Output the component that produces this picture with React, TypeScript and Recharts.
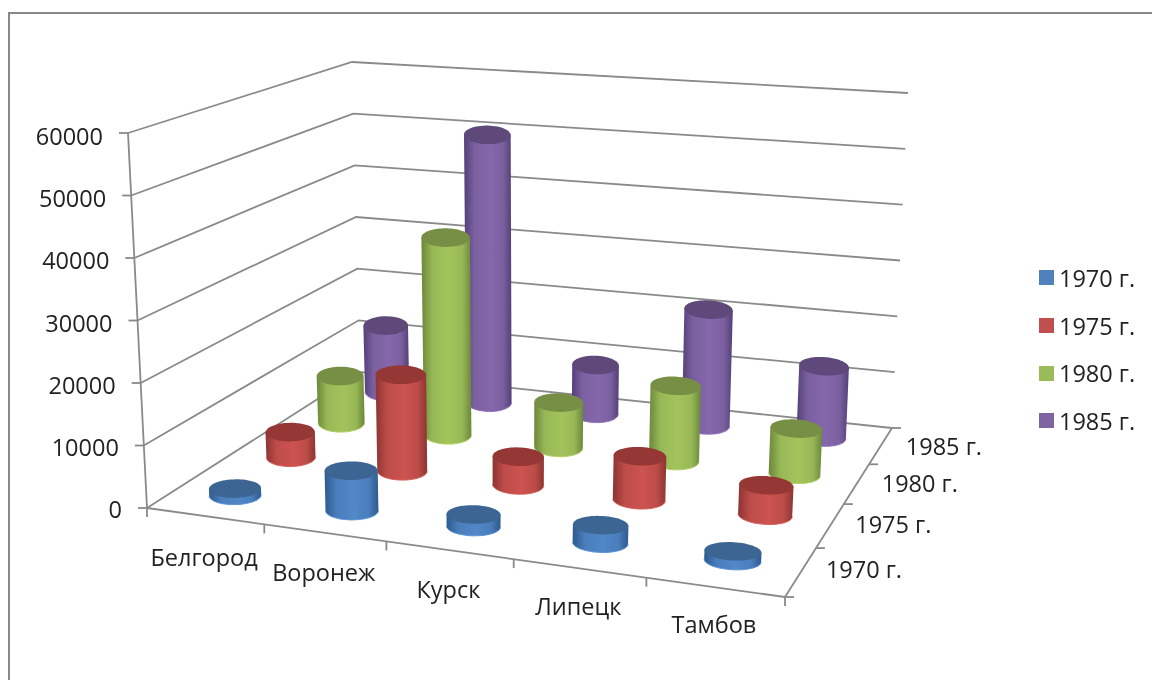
import { Bar, CartesianGrid, ComposedChart, Legend, XAxis, YAxis } from 'recharts'

const cities = ['Белгород', 'Воронеж', 'Курск', 'Липецк', 'Тамбов']
const years = ['1970 г.', '1975 г.', '1980 г.', '1985 г.']
const values1970 = [1100, 6400, 1900, 2800, 1400]
const values1975 = [4300, 16200, 4700, 7100, 4800]
const values1980 = [8400, 34900, 7800, 12800, 7700]
const values1985 = [12400, 49500, 8800, 20700, 12500]
const yTicks = [0, 10000, 20000, 30000, 40000, 50000, 60000]
const depthTicks = [0.5, 1.5, 2.5, 3.5]

const tableData = cities.map((city, i) => ({
  city,
  s0: values1970[i],
  s1: values1975[i],
  s2: values1980[i],
  s3: values1985[i],
}))

const palette = [
  { id: 'blue', legend: '#4f81bd', edge: '#2d5a8f', mid: '#4a7dbb', light: '#5088c8', top: '#3c6593', rim: '#5a94d6' },
  { id: 'red', legend: '#c0504d', edge: '#8c3432', mid: '#bd4c49', light: '#cc5350', top: '#953735', rim: '#d75e5b' },
  { id: 'green', legend: '#9bbb59', edge: '#6b873a', mid: '#97b856', light: '#a3c45c', top: '#768f45', rim: '#b1d066' },
  { id: 'purple', legend: '#8064a2', edge: '#534078', mid: '#7b60a0', light: '#8567ab', top: '#5f497a', rim: '#9272b8' },
]

const PLOT = { left: 100, top: 50, width: 600, height: 500 }
const WIDTH = 1152
const HEIGHT = 680
const FONT = '"Open Sans", sans-serif'
const FONT_SIZE = 23.5
const LINE = '#8a8a8a'
const LINE_WIDTH = 1.8
const TEXT = '#222222'

// corners of the 3D box on the page, [x, y]
const box = {
  frontLeft: [[147, 508], [128, 133]],
  backLeft: [[360, 372], [352, 62]],
  frontRight: [[785, 597], [805, 190]],
  backRight: [[892, 428], [908, 93]],
}

const lerp = (a: number, b: number, t: number) => a + (b - a) * t
const warpU = (u: number) => u / (1.11 - 0.11 * u)
const warpV = (v: number) => (1.22 * v) / (1 + 0.22 * v)

function project(u: number, v: number, w: number) {
  const fu = warpU(u)
  const fv = warpV(v)
  const at = (axis: number) => {
    const bottom = lerp(
      lerp(box.frontLeft[0][axis], box.frontRight[0][axis], fu),
      lerp(box.backLeft[0][axis], box.backRight[0][axis], fu),
      fv,
    )
    const top = lerp(
      lerp(box.frontLeft[1][axis], box.frontRight[1][axis], fu),
      lerp(box.backLeft[1][axis], box.backRight[1][axis], fu),
      fv,
    )
    return lerp(bottom, top, w)
  }
  return { x: at(0), y: at(1) }
}

const toPath = (pts: { x: number; y: number }[], close = false) =>
  pts.map((p, i) => `${i ? 'L' : 'M'}${p.x.toFixed(1)},${p.y.toFixed(1)}`).join('') + (close ? 'Z' : '')

const RU = 0.041
const RV = 0.048
const CAP_RY = 9.3

// circle around a column's centre as offsets from that centre, same height in every row
function ringOffsets(u: number, v: number) {
  const centre = project(u, v, 0)
  const pts = []
  for (let i = 0; i < 60; i++) {
    const a = (i / 60) * Math.PI * 2
    const p = project(u + RU * Math.cos(a), v + RV * Math.sin(a), 0)
    pts.push({ x: p.x - centre.x, y: p.y - centre.y })
  }
  const ys = pts.map((p) => p.y)
  const scale = (2 * CAP_RY) / (Math.max(...ys) - Math.min(...ys))
  return pts.map((p) => ({ x: p.x, y: p.y * scale }))
}

function extremes(pts: { x: number; y: number }[]) {
  let l = 0
  let r = 0
  pts.forEach((p, i) => {
    if (p.x < pts[l].x) l = i
    if (p.x > pts[r].x) r = i
  })
  return { l, r }
}

function makeCylinder(seriesIndex: number) {
  const color = palette[seriesIndex]
  const v = (seriesIndex + 0.5) / years.length
  return (props: any) => {
    const u = (props.x + props.width / 2 - PLOT.left) / PLOT.width
    const w = (PLOT.top + PLOT.height - props.y) / PLOT.height
    const offsets = ringOffsets(u, v)
    const foot = project(u, v, 0)
    const head = project(u, v, w)
    // columns sit a little higher towards the right of the floor
    const lift = 2.5 * u
    const base = offsets.map((o) => ({ x: foot.x + o.x, y: foot.y - lift + o.y }))
    const top = offsets.map((o) => ({ x: head.x + o.x * (1 + 0.04 * w), y: head.y - lift + o.y }))
    const b = extremes(base)
    const t = extremes(top)
    // front half of the base ring, left to right
    const lower = []
    for (let i = b.l; ; i = (i + 1) % 60) {
      lower.push(base[i])
      if (i === b.r) break
    }
    const body = [...lower, top[t.r], top[t.l]]
    return (
      <g>
        <path d={toPath(body, true)} fill={`url(#body-${color.id})`} />
        <path d={toPath(lower)} fill="none" stroke={color.rim} strokeWidth={1} />
        <path d={toPath(top, true)} fill={color.top} />
      </g>
    )
  }
}

function gridLine(props: any) {
  const w = (PLOT.top + PLOT.height - props.y1) / PLOT.height
  const pts = [project(0, 0, w), project(0, 1, w), project(1, 1, w)]
  return <path key={props.key ?? props.index} d={toPath(pts)} fill="none" stroke={LINE} strokeWidth={LINE_WIDTH} />
}

function YTick(props: any) {
  const w = (PLOT.top + PLOT.height - props.y) / PLOT.height
  const p = project(0, 0, w)
  return (
    <g>
      <line x1={p.x - 9} x2={p.x} y1={p.y} y2={p.y} stroke={LINE} strokeWidth={LINE_WIDTH} />
      <text x={p.x - 25} y={p.y + 10 + 2 * w} textAnchor="end" fontFamily={FONT} fontSize={FONT_SIZE} fill={TEXT}>
        {props.payload.value}
      </text>
    </g>
  )
}

function CityTick(props: any) {
  const u = (props.x - PLOT.left) / PLOT.width
  const p = project(u, 0, 0)
  return (
    <text
      x={p.x - 1}
      y={p.y + lerp(50, 45, u)}
      textAnchor="middle"
      fontFamily={FONT}
      fontSize={FONT_SIZE}
      fill={TEXT}
    >
      {props.payload.value}
    </text>
  )
}

function DepthTick(props: any) {
  const v = (props.x - PLOT.left) / PLOT.width
  const p = project(1, v, 0)
  return (
    <text x={p.x + 25} y={p.y + lerp(6, 10, v)} textAnchor="start" fontFamily={FONT} fontSize={FONT_SIZE} fill={TEXT}>
      {years[Math.floor(props.payload.value)]}
    </text>
  )
}

// axis lines of the box and their small tick marks
function BoxFrame() {
  const lines = [
    [project(0, 0, 0), project(0, 0, 1)],
    [project(0, 0, 0), project(1, 0, 0)],
    [project(1, 0, 0), project(1, 1, 0)],
  ]
  const marks = []
  for (let i = 0; i <= cities.length; i++) {
    const p = project(i / cities.length, 0, 0)
    marks.push([p, { x: p.x, y: p.y + 9 }])
  }
  for (let j = 0; j <= years.length; j++) {
    const p = project(1, j / years.length, 0)
    marks.push([p, { x: p.x + 9, y: p.y }])
  }
  return (
    <g>
      {[...lines, ...marks].map((pts, i) => (
        <path key={i} d={toPath(pts)} fill="none" stroke={LINE} strokeWidth={LINE_WIDTH} />
      ))}
    </g>
  )
}

function LegendBox({ payload }: any) {
  return (
    <div>
      {(payload ?? []).map((entry: any) => (
        <div
          key={entry.value}
          style={{ display: 'flex', alignItems: 'center', height: 47.7, fontFamily: FONT, fontSize: FONT_SIZE, color: TEXT }}
        >
          <span style={{ width: 15, height: 15, marginRight: 5, background: entry.color }} />
          {entry.value}
        </div>
      ))}
    </div>
  )
}

export default function App() {
  return (
    <div style={{ position: 'fixed', left: 0, top: 0, width: WIDTH, height: HEIGHT, background: '#fff', filter: 'blur(0.4px)' }}>
      <ComposedChart
        width={WIDTH}
        height={HEIGHT}
        data={tableData}
        margin={{
          left: PLOT.left - 1,
          top: PLOT.top,
          right: WIDTH - PLOT.left - PLOT.width,
          bottom: HEIGHT - PLOT.top - PLOT.height - 2,
        }}
      >
        <defs>
          {palette.map((c) => (
            <linearGradient key={c.id} id={`body-${c.id}`} x1="0" x2="1" y1="0" y2="0">
              <stop offset="0%" stopColor={c.edge} />
              <stop offset="22%" stopColor={c.mid} />
              <stop offset="55%" stopColor={c.light} />
              <stop offset="82%" stopColor={c.mid} />
              <stop offset="100%" stopColor={c.edge} />
            </linearGradient>
          ))}
        </defs>
        <rect x={9} y={13} width={1170} height={700} fill="none" stroke="#888888" strokeWidth={2} />
        <YAxis type="number" domain={[0, 60000]} ticks={yTicks} width={1} axisLine={false} tickLine={false} tick={YTick} />
        <XAxis dataKey="city" height={1} axisLine={false} tickLine={false} tick={CityTick} interval={0} />
        <XAxis
          xAxisId="depth"
          type="number"
          domain={[0, years.length]}
          ticks={depthTicks}
          allowDataOverflow
          height={1}
          axisLine={false}
          tickLine={false}
          tick={DepthTick}
          interval={0}
        />
        {years.map((_, j) => (
          <XAxis key={j} xAxisId={`s${j}`} dataKey="city" hide />
        ))}
        <CartesianGrid vertical={false} horizontal={gridLine} />
        <BoxFrame />
        {[3, 2, 1, 0].map((j) => (
          <Bar
            key={j}
            xAxisId={`s${j}`}
            dataKey={`s${j}`}
            name={years[j]}
            fill={palette[j].legend}
            shape={makeCylinder(j)}
            isAnimationActive={false}
          />
        ))}
        <Legend
          layout="vertical"
          align="center"
          verticalAlign="middle"
          width={113}
          wrapperStyle={{ left: 1039, top: 254 }}
          content={LegendBox}
        />
      </ComposedChart>
    </div>
  )
}
